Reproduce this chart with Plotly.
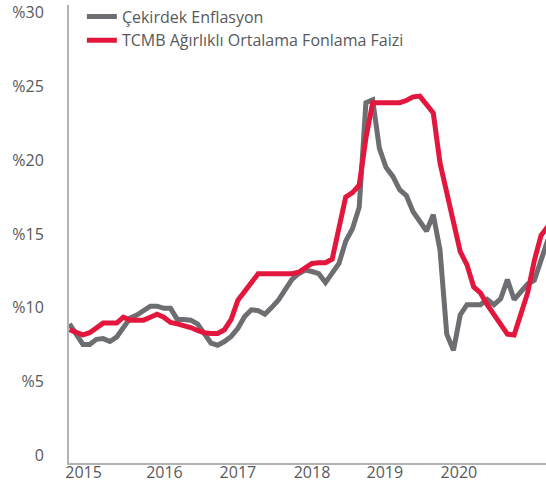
import plotly.graph_objects as go

# Monthly index (Jan 2015 = 0 ... Dec 2020 = 71)
months = list(range(72))

cekirdek_enflasyon = [8.9, 8.2, 7.5, 7.5, 7.85, 7.9, 7.7, 8.0, 8.6, 9.3, 9.5, 9.8,
                      10.1, 10.1, 9.95, 9.95, 9.2, 9.2, 9.15, 8.9, 8.3, 7.6, 7.45, 7.7,
                      8.05, 8.6, 9.4, 9.85, 9.8, 9.55, 10.0, 10.5, 11.2, 11.9, 12.3, 12.55,
                      12.45, 12.3, 11.7, 12.4, 13.0, 14.5, 15.35, 16.8, 23.9, 24.1, 20.8, 19.5,
                      18.9, 18.0, 17.6, 16.5, 15.9, 15.2, 16.3, 13.9, 8.2, 7.1, 9.5, 10.2,
                      10.2, 10.2, 10.55, 10.2, 10.6, 11.9, 10.55, 11.1, 11.6, 11.85, 13.2, 14.6]

fonlama_faizi = [8.5, 8.3, 8.15, 8.3, 8.6, 8.95, 8.95, 8.95, 9.35, 9.15, 9.15, 9.15,
                 9.35, 9.55, 9.35, 9.0, 8.9, 8.8, 8.65, 8.45, 8.3, 8.25, 8.25, 8.5,
                 9.2, 10.5, 11.1, 11.7, 12.3, 12.3, 12.3, 12.3, 12.3, 12.3, 12.4, 12.75,
                 13.0, 13.05, 13.05, 13.3, 15.6, 17.5, 17.8, 18.3, 21.5, 23.9, 23.9, 23.9,
                 23.9, 23.9, 24.05, 24.3, 24.35, 23.8, 23.2, 19.8, 17.6, 15.8, 13.8, 12.9,
                 11.4, 11.0, 10.2, 9.5, 8.9, 8.2, 8.14, 9.6, 11.0, 13.2, 14.9, 15.5]

series_names = ["Çekirdek Enflasyon", "TCMB Ağırlıklı Ortalama Fonlama Faizi"]
series_colors = ["#6d6e71", "#e3173e"]

year_labels = ["2015", "2016", "2017", "2018", "2019", "2020"]
year_tick_pos = [2.1, 14.1, 25.0, 36.0, 46.8, 57.8]

y_tick_vals = [0, 5, 10, 15, 20, 25, 30]
y_tick_text = ["0", "%5", "%10", "%15", "%20", "%25", "%30"]

fig = go.Figure()
for name, vals, col in zip(series_names, [cekirdek_enflasyon, fonlama_faizi], series_colors):
    fig.add_trace(go.Scatter(x=months, y=vals, mode="lines", name=name,
                             line=dict(color=col, width=5)))

font_fam = "Open Sans, Noto Sans, sans-serif"
fig.update_layout(
    width=546, height=487,
    margin=dict(l=69, r=0, t=5, b=24, autoexpand=False),
    paper_bgcolor="white", plot_bgcolor="white",
    font=dict(family=font_fam, size=16, color="#58595b"),
    showlegend=True,
    legend=dict(x=0.027, y=1.012, xanchor="left", yanchor="top",
                bgcolor="rgba(0,0,0,0)", font=dict(size=16, color="#58595b"),
                tracegroupgap=0, itemwidth=30),
    xaxis=dict(range=[-0.07, 70.73], showgrid=False, zeroline=False,
               showline=True, linecolor="#b3b3b3", linewidth=2,
               tickvals=year_tick_pos, ticktext=year_labels,
               ticks="", ticklabelstandoff=-6,
               tickfont=dict(size=16, color="#58595b")),
    yaxis=dict(range=[-0.54, 30.53], showgrid=False, zeroline=False,
               showline=True, linecolor="#b3b3b3", linewidth=2,
               tickvals=y_tick_vals, ticktext=y_tick_text,
               ticks="", ticklabelstandoff=20,
               tickfont=dict(size=16, color="#58595b")),
)

fig.write_html("out.html",
               config={"displayModeBar": False},
               post_script="document.body.style.margin='0';document.body.style.overflow='hidden';")
